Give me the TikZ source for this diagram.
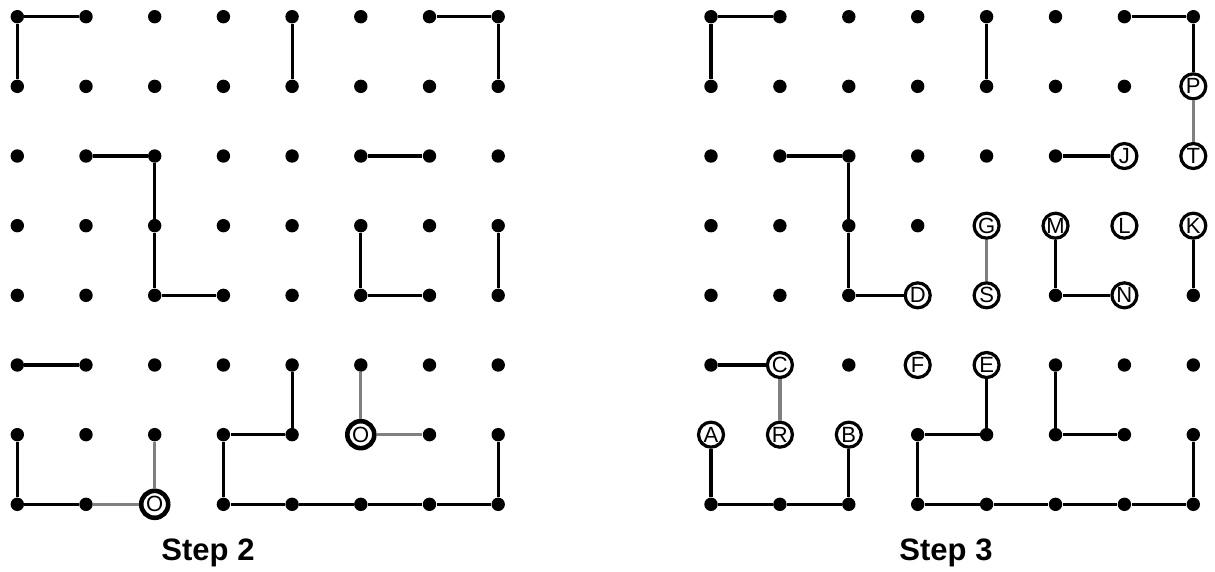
\documentclass[tikz,border=0pt]{standalone}
\usepackage{fontspec}
\setmainfont{Liberation Sans}

\begin{document}
\begin{tikzpicture}[
    x=0.5pt, y=-0.5pt,
    dot/.style={circle, fill=black, inner sep=0pt, minimum size=6.7pt},
    letter/.style={circle, draw, line width=1.6pt, fill=white, inner sep=0pt, minimum size=12.5pt, font=\fontsize{11}{12}\selectfont},
    start/.style={circle, draw, line width=2.3pt, fill=white, inner sep=0pt, minimum size=13.5pt, font=\fontsize{11}{12}\selectfont},
    edge/.style={line width=1.6pt, black},
    faded/.style={line width=1.6pt, black!50},
    caption/.style={font=\fontsize{15.5}{18}\selectfont\bfseries}
]
    \useasboundingbox (0,0) rectangle (1215,572);

    % Dot grids
    \foreach \i in {0,...,7} {
        \foreach \j in {0,...,7} {
            \node[dot] (a-\i-\j) at ({17.3+68.7*\i},{16.7+69.66*\j}) {};
            \node[dot] (b-\i-\j) at ({711+68.9*\i},{16.7+69.66*\j}) {};
        }
    }

    % Step 2 marks
    \node[start] (o1) at (a-2-7) {O};
    \node[start] (o2) at (a-5-6) {O};

    % Step 3 marks
    \node[letter] (P) at (b-7-1) {P};
    \node[letter] (T) at (b-7-2) {T};
    \node[letter] (J) at (b-6-2) {J};
    \node[letter] (G) at (b-4-3) {G};
    \node[letter] (M) at (b-5-3) {M};
    \node[letter] (L) at (b-6-3) {L};
    \node[letter] (K) at (b-7-3) {K};
    \node[letter] (D) at (b-3-4) {D};
    \node[letter] (S) at (b-4-4) {S};
    \node[letter] (N) at (b-6-4) {N};
    \node[letter] (C) at (b-1-5) {C};
    \node[letter] (F) at (b-3-5) {F};
    \node[letter] (E) at (b-4-5) {E};
    \node[letter] (A) at (b-0-6) {A};
    \node[letter] (R) at (b-1-6) {R};
    \node[letter] (B) at (b-2-6) {B};

    % Step 2 walls
    \draw[edge] (a-1-0) -- (a-0-0) -- (a-0-1);
    \draw[edge] (a-4-0) -- (a-4-1);
    \draw[edge] (a-6-0) -- (a-7-0) -- (a-7-1);
    \draw[edge] (a-1-2) -- (a-2-2) -- (a-2-3) -- (a-2-4) -- (a-3-4);
    \draw[edge] (a-5-2) -- (a-6-2);
    \draw[edge] (a-5-3) -- (a-5-4) -- (a-6-4);
    \draw[edge] (a-7-3) -- (a-7-4);
    \draw[edge] (a-0-5) -- (a-1-5);
    \draw[edge] (a-4-5) -- (a-4-6) -- (a-3-6) -- (a-3-7) -- (a-4-7) -- (a-5-7) -- (a-6-7) -- (a-7-7) -- (a-7-6);
    \draw[edge] (a-0-6) -- (a-0-7) -- (a-1-7);
    \draw[faded] (a-1-7) -- (o1) -- (a-2-6);
    \draw[faded] (a-5-5) -- (o2) -- (a-6-6);

    % Step 3 walls
    \draw[edge] (b-1-0) -- (b-0-0) -- (b-0-1);
    \draw[edge] (b-4-0) -- (b-4-1);
    \draw[edge] (b-6-0) -- (b-7-0) -- (P);
    \draw[faded] (P) -- (T);
    \draw[edge] (b-5-2) -- (J);
    \draw[edge] (b-1-2) -- (b-2-2) -- (b-2-3) -- (b-2-4) -- (D);
    \draw[faded] (G) -- (S);
    \draw[edge] (M) -- (b-5-4) -- (N);
    \draw[edge] (K) -- (b-7-4);
    \draw[edge] (b-0-5) -- (C);
    \draw[faded] (C) -- (R);
    \draw[edge] (E) -- (b-4-6) -- (b-3-6) -- (b-3-7) -- (b-4-7) -- (b-5-7) -- (b-6-7) -- (b-7-7) -- (b-7-6);
    \draw[edge] (b-5-5) -- (b-5-6) -- (b-6-6);
    \draw[edge] (A) -- (b-0-7) -- (b-1-7) -- (b-2-7) -- (B);

    % Captions
    \node[caption] (step2) at (208,553) {Step 2};
    \node[caption] (step3) at (946,553) {Step 3};

\end{tikzpicture}
\end{document}
